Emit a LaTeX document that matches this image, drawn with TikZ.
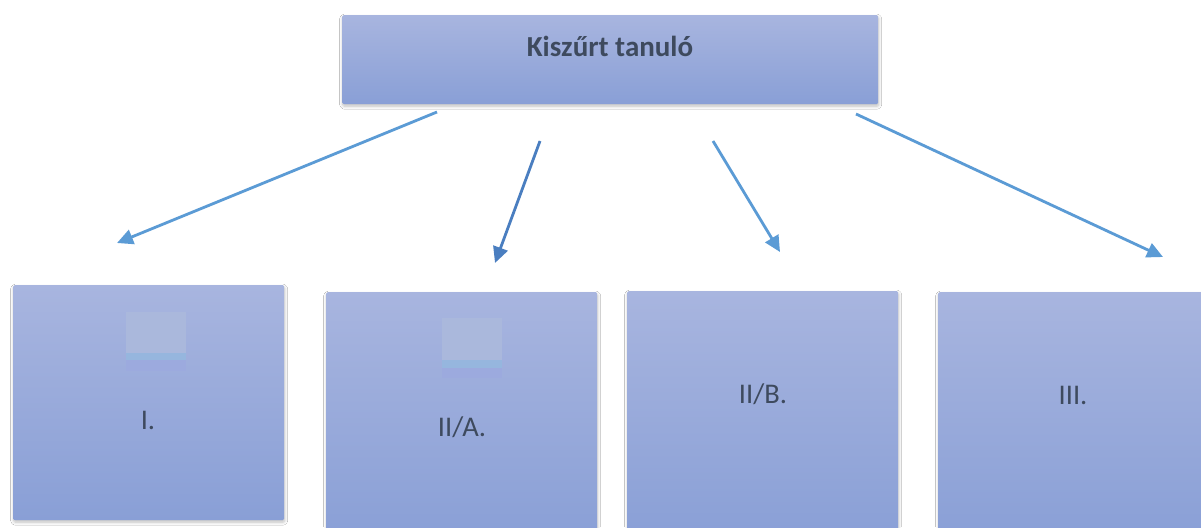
\documentclass[tikz,border=0pt]{standalone}
\usepackage{fontspec}
\setmainfont{Carlito}
\usetikzlibrary{arrows.meta,shadows.blur}
\definecolor{boxtop}{RGB}{168,181,223}
\definecolor{boxbot}{RGB}{137,159,214}
\definecolor{txt}{RGB}{62,74,94}
\definecolor{arr}{RGB}{91,155,213}
\definecolor{arrdark}{RGB}{74,126,192}
\definecolor{sqtop}{RGB}{170,184,220}
\definecolor{sqline}{RGB}{150,182,222}
\definecolor{sqbot}{RGB}{156,170,222}
\tikzset{
 box/.style={draw=none, top color=boxtop, bottom color=boxbot, rounded corners=1.5pt,
   blur shadow={shadow xshift=0.5pt, shadow yshift=-2pt, shadow blur steps=8, shadow opacity=25, shadow blur radius=3pt},
   anchor=north west, inner sep=0pt},
 lbl/.style={text=txt, font=\fontsize{28.5}{34}\selectfont, inner sep=0pt},
 conn/.style={draw=arr, line width=2.8pt, -{Triangle[length=16pt,width=15pt]}},
}
\begin{document}
\begin{tikzpicture}[x=1pt,y=-1pt]
\clip (0,0) rectangle (1201,527);
\fill[white] (0,0) rectangle (1201,527);
% boxes
\node[box, minimum width=536pt, minimum height=89pt] (top) at (342,15) {};
\node[box, minimum width=271pt, minimum height=235pt] (b1) at (13,285) {};
\node[box, minimum width=271pt, minimum height=250pt] (b2) at (326,292) {};
\node[box, minimum width=271pt, minimum height=250pt] (b3) at (627,291) {};
\node[box, minimum width=280pt, minimum height=250pt] (b4) at (938,292) {};
% small squares
\fill[sqtop] (126,312) rectangle (186,353);
\fill[sqline] (126,353) rectangle (186,360);
\fill[sqbot] (126,360) rectangle (186,371);
\fill[sqtop] (442,318) rectangle (502,360);
\fill[sqline] (442,360) rectangle (502,368);
\fill[sqbot] (442,368) rectangle (502,378);
% labels
\node[lbl, font=\fontsize{29}{34}\selectfont\bfseries] (ttop) at (610,46) {Kiszűrt tanuló};
\node[lbl] (t1) at (148,420) {I.};
\node[lbl] (t2) at (462,427) {II/A.};
\node[lbl] (t3) at (763,394) {II/B.};
\node[lbl] (t4) at (1073,395) {III.};
% arrows
\coordinate (a1s) at (437,112); \coordinate (a1e) at (117,243);
\coordinate (a2s) at (540,141); \coordinate (a2e) at (495,263);
\coordinate (a3s) at (713,141); \coordinate (a3e) at (780,252);
\coordinate (a4s) at (856,114); \coordinate (a4e) at (1163,257);
\draw[conn] (a1s) -- (a1e);
\draw[conn, draw=arrdark] (a2s) -- (a2e);
\draw[conn] (a3s) -- (a3e);
\draw[conn] (a4s) -- (a4e);
\end{tikzpicture}
\end{document}
